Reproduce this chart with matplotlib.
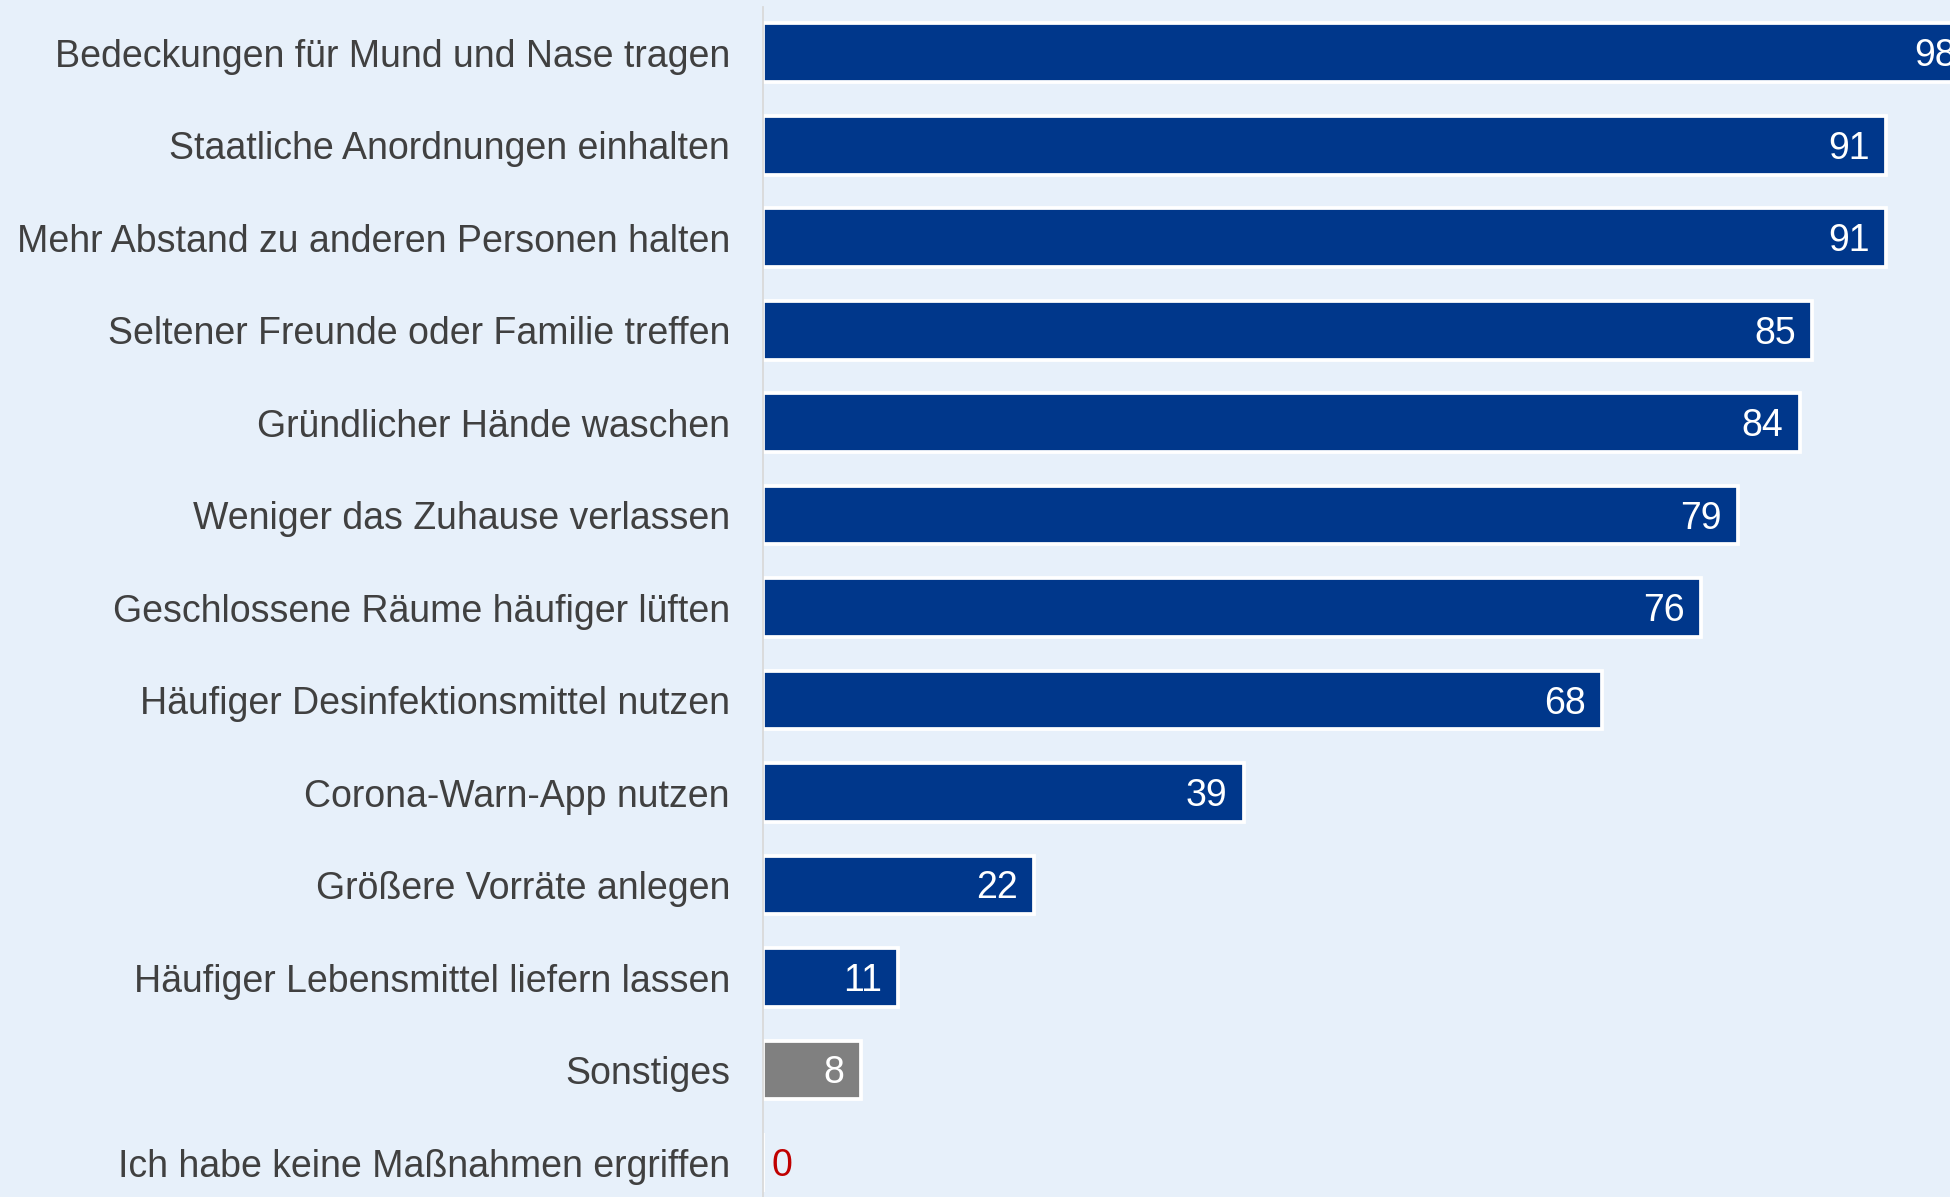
import matplotlib
matplotlib.use("Agg")
import matplotlib.pyplot as plt

categories = [
    "Bedeckungen für Mund und Nase tragen",
    "Staatliche Anordnungen einhalten",
    "Mehr Abstand zu anderen Personen halten",
    "Seltener Freunde oder Familie treffen",
    "Gründlicher Hände waschen",
    "Weniger das Zuhause verlassen",
    "Geschlossene Räume häufiger lüften",
    "Häufiger Desinfektionsmittel nutzen",
    "Corona-Warn-App nutzen",
    "Größere Vorräte anlegen",
    "Häufiger Lebensmittel liefern lassen",
    "Sonstiges",
    "Ich habe keine Maßnahmen ergriffen",
]
values = [98, 91, 91, 85, 84, 79, 76, 68, 39, 22, 11, 8, 0]
highlight = ["main"] * 11 + ["other", "none"]

BG = "#E7F0FA"
BLUE = "#00378B"
GRAY = "#808080"
RED = "#C00000"
TEXT = "#404040"

plt.rcParams["font.family"] = ["Liberation Sans", "DejaVu Sans"]

fig = plt.figure(figsize=(19.5, 11.97), dpi=100, facecolor=BG)
ax = fig.add_axes([762.5 / 1950, 0, 1 - 762.5 / 1950, 1 - 7 / 1197])
ax.set_facecolor(BG)

ypos = list(range(len(categories)))
colors = [BLUE if h == "main" else GRAY for h in highlight]
bars = ax.barh(ypos, values, height=0.635, color=colors, edgecolor="white",
               linewidth=2.7, zorder=2)

FS = 27
half_cap = FS * 0.716 / 2
for y, v, h in zip(ypos, values, highlight):
    if h == "none":
        ax.annotate(f"{v}", xy=(0, y), xytext=(6.5, -half_cap), textcoords="offset points",
                    ha="left", va="baseline", color=RED, fontsize=FS)
    else:
        ax.annotate(f"{v}", xy=(v, y), xytext=(-12, -half_cap), textcoords="offset points",
                    ha="right", va="baseline", color="white", fontsize=FS,
                    annotation_clip=False)

ax.set_xlim(0, 96.15)
ax.set_ylim(12.373, -0.494)
ax.set_yticks(ypos)
ax.set_yticklabels(categories, fontsize=FS, color=TEXT)
ax.tick_params(axis="y", length=0, pad=23.4)
ax.set_xticks([])
for s in ["top", "right", "bottom"]:
    ax.spines[s].set_visible(False)
ax.spines["left"].set_color("#D9D9D9")
ax.spines["left"].set_linewidth(1.3)
ax.spines["left"].set_zorder(3)

fig.savefig("out.png", dpi=100, facecolor=BG)
